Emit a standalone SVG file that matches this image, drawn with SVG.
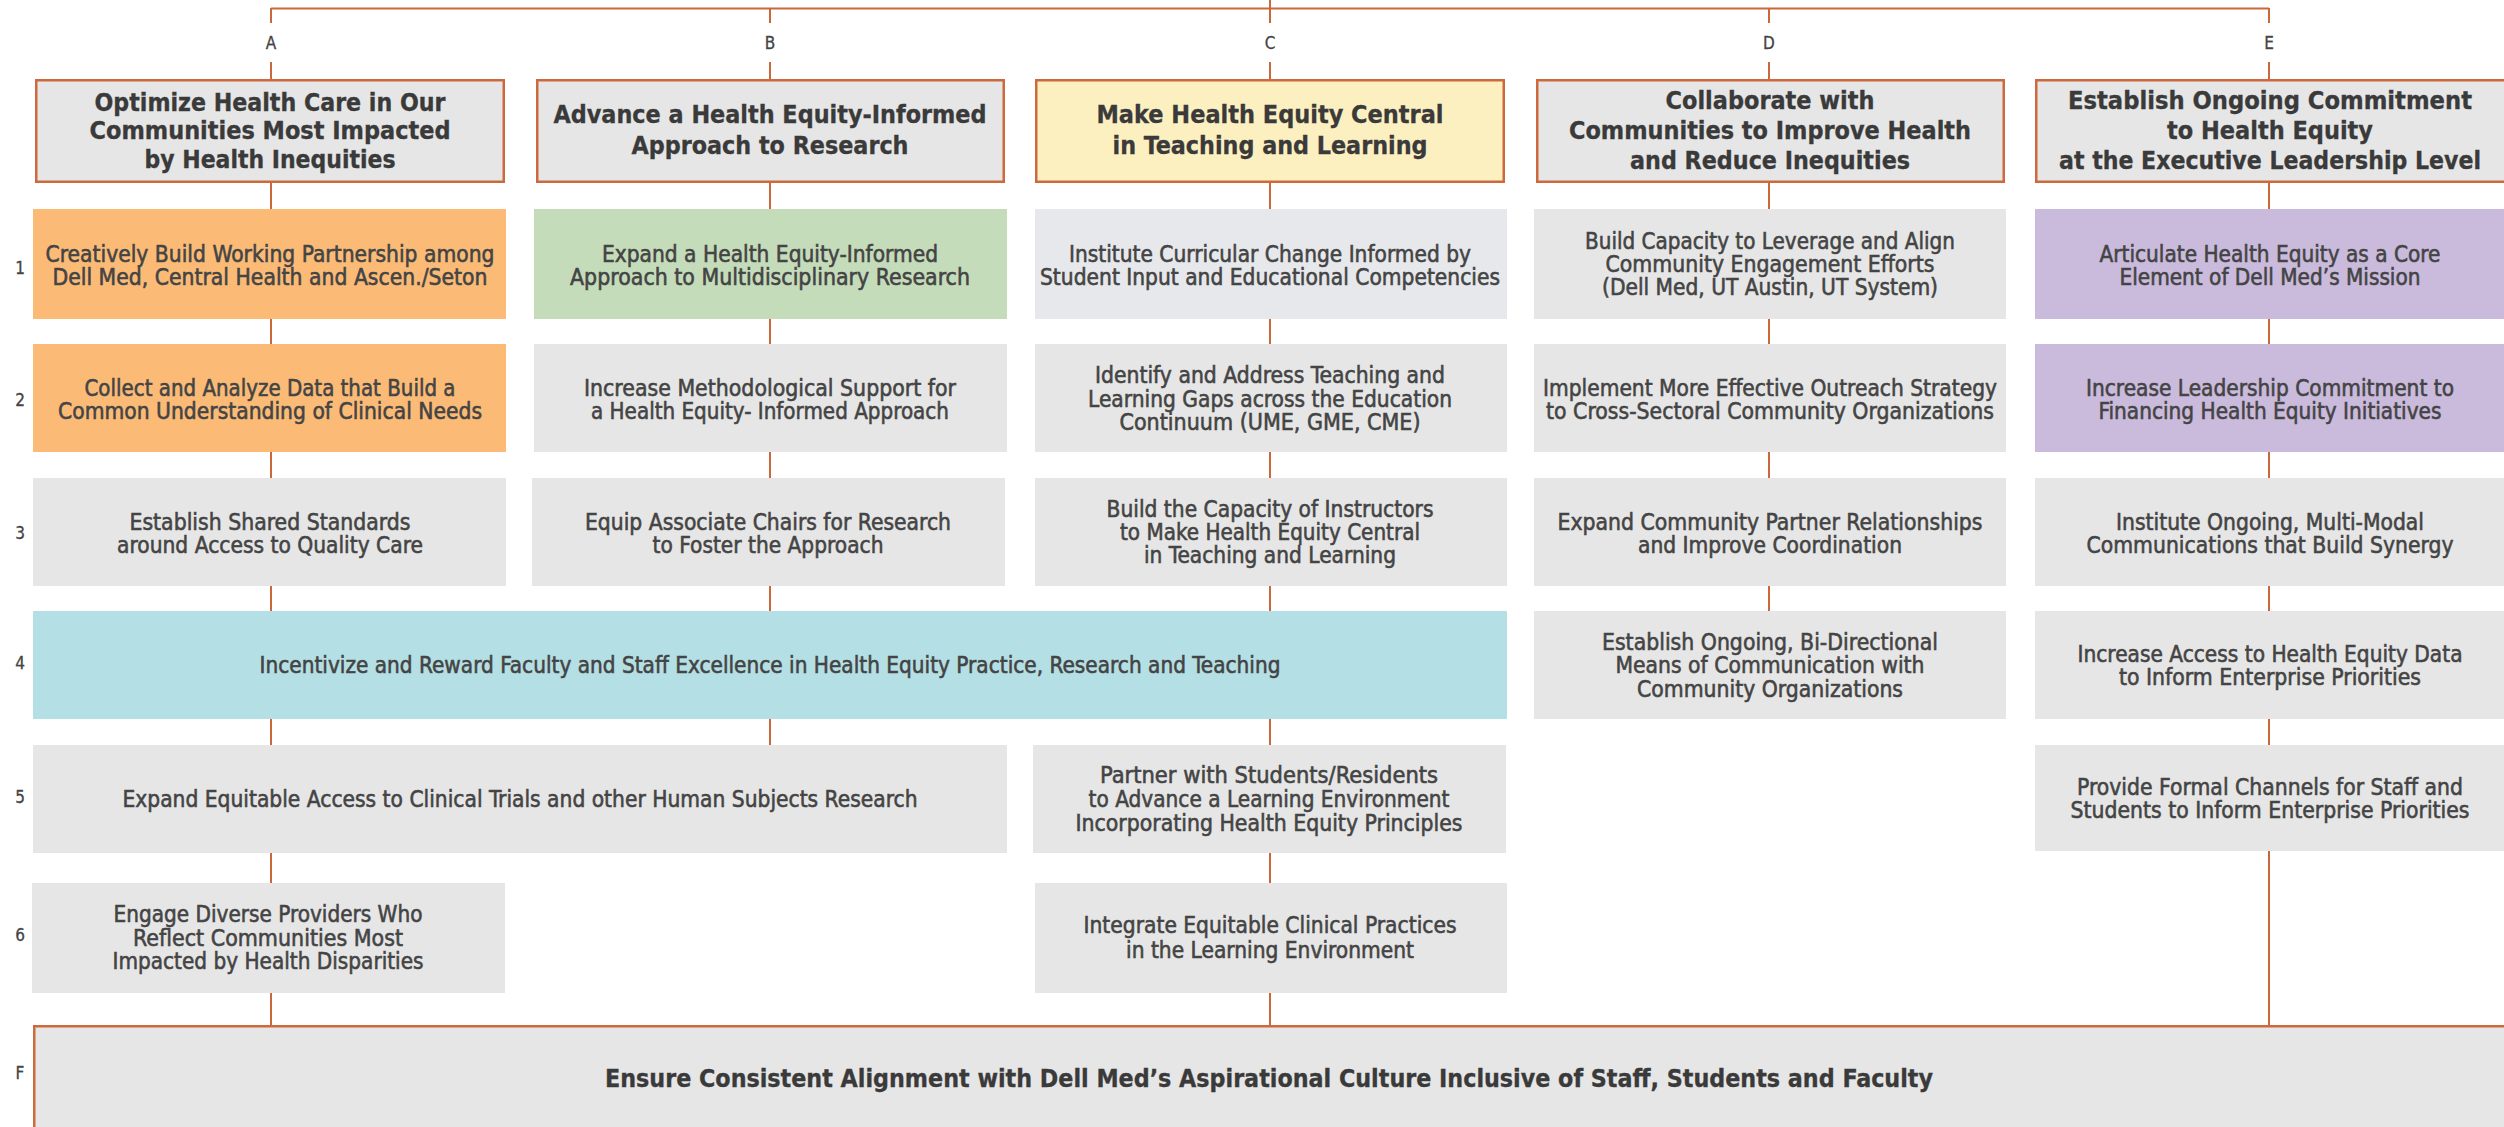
<svg xmlns="http://www.w3.org/2000/svg" width="2504" height="1127" viewBox="0 0 2504 1127">
<style>
.bg{fill:#ffffff}
.hdr{fill:#e6e6e6;stroke:#cd6a3d;stroke-width:2.5}
.hdr.yel{fill:#fdf0c0}
.box{fill:#e6e6e6}
.org{fill:#fbbb77}
.grn{fill:#c5dcba}
.pur{fill:#cabadc}
.teal{fill:#b4dfe4}
.blu{fill:#e7e8eb}
.fbox{fill:#e6e6e6;stroke:#cd6a3d;stroke-width:2.5}
.con line{stroke:#c9693b;stroke-width:2;fill:none}
text{font-family:'Liberation Sans Narrow','DejaVu Sans Condensed','Liberation Sans',Arial,sans-serif;text-anchor:middle}
.t{font-size:23px;fill:#444444;stroke:#444444;stroke-width:0.55}
.h{font-size:24px;font-weight:bold;fill:#3a3a3a;stroke:#3a3a3a;stroke-width:0.3}
.f{font-size:24px;font-weight:bold;fill:#3a3a3a;stroke:#3a3a3a;stroke-width:0.3}
.lbl{font-size:17px;fill:#444444;stroke:#444444;stroke-width:0.3}
</style>
<rect class="bg" x="0" y="0" width="2504" height="1127"/>

<g id="connectors" class="con">
<line x1="271" y1="8.5" x2="2269" y2="8.5"/>
<line x1="271" y1="8" x2="271" y2="23"/><line x1="271" y1="62" x2="271" y2="80"/>
<line x1="770" y1="8" x2="770" y2="23"/><line x1="770" y1="62" x2="770" y2="80"/>
<line x1="1270" y1="0" x2="1270" y2="23"/><line x1="1270" y1="62" x2="1270" y2="80"/>
<line x1="1769" y1="8" x2="1769" y2="23"/><line x1="1769" y1="62" x2="1769" y2="80"/>
<line x1="2269" y1="8" x2="2269" y2="23"/><line x1="2269" y1="62" x2="2269" y2="80"/>
<line x1="271" y1="183" x2="271" y2="209"/>
<line x1="770" y1="183" x2="770" y2="209"/>
<line x1="1270" y1="183" x2="1270" y2="209"/>
<line x1="1769" y1="183" x2="1769" y2="209"/>
<line x1="2269" y1="183" x2="2269" y2="209"/>
<line x1="271" y1="319" x2="271" y2="344"/><line x1="271" y1="452" x2="271" y2="478"/><line x1="271" y1="586" x2="271" y2="611"/><line x1="271" y1="719" x2="271" y2="745"/><line x1="271" y1="853" x2="271" y2="883"/><line x1="271" y1="993" x2="271" y2="1025"/>
<line x1="770" y1="319" x2="770" y2="344"/><line x1="770" y1="452" x2="770" y2="478"/><line x1="770" y1="586" x2="770" y2="611"/><line x1="770" y1="719" x2="770" y2="745"/>
<line x1="1270" y1="319" x2="1270" y2="344"/><line x1="1270" y1="452" x2="1270" y2="478"/><line x1="1270" y1="586" x2="1270" y2="611"/><line x1="1270" y1="719" x2="1270" y2="745"/><line x1="1270" y1="853" x2="1270" y2="883"/><line x1="1270" y1="993" x2="1270" y2="1025"/>
<line x1="1769" y1="319" x2="1769" y2="344"/><line x1="1769" y1="452" x2="1769" y2="478"/><line x1="1769" y1="586" x2="1769" y2="611"/>
<line x1="2269" y1="319" x2="2269" y2="344"/><line x1="2269" y1="452" x2="2269" y2="478"/><line x1="2269" y1="586" x2="2269" y2="611"/><line x1="2269" y1="719" x2="2269" y2="745"/><line x1="2269" y1="851" x2="2269" y2="1025"/>
</g>

<g id="labels">
<text class="lbl" x="271" y="49">A</text>
<text class="lbl" x="770" y="49">B</text>
<text class="lbl" x="1270" y="49">C</text>
<text class="lbl" x="1769" y="49">D</text>
<text class="lbl" x="2269" y="49">E</text>
<text class="lbl" x="20" y="274">1</text>
<text class="lbl" x="20" y="406">2</text>
<text class="lbl" x="20" y="539">3</text>
<text class="lbl" x="20" y="669">4</text>
<text class="lbl" x="20" y="803">5</text>
<text class="lbl" x="20" y="941">6</text>
<text class="lbl" x="20" y="1079">F</text>
</g>

<g id="hdrA">
<rect class="hdr" x="36.25" y="80.25" width="467.5" height="101.5"/>
<text class="h" x="270" y="111" textLength="351" lengthAdjust="spacingAndGlyphs">Optimize Health Care in Our</text>
<text class="h" x="270" y="139" textLength="361" lengthAdjust="spacingAndGlyphs">Communities Most Impacted</text>
<text class="h" x="270" y="168" textLength="251" lengthAdjust="spacingAndGlyphs">by Health Inequities</text>
</g>
<g id="hdrB">
<rect class="hdr" x="537.25" y="80.25" width="466.5" height="101.5"/>
<text class="h" x="770" y="123" textLength="433" lengthAdjust="spacingAndGlyphs">Advance a Health Equity-Informed</text>
<text class="h" x="770" y="154" textLength="277" lengthAdjust="spacingAndGlyphs">Approach to Research</text>
</g>
<g id="hdrC">
<rect class="hdr yel" x="1036.25" y="80.25" width="467.5" height="101.5"/>
<text class="h" x="1270" y="123" textLength="347" lengthAdjust="spacingAndGlyphs">Make Health Equity Central</text>
<text class="h" x="1270" y="154" textLength="315" lengthAdjust="spacingAndGlyphs">in Teaching and Learning</text>
</g>
<g id="hdrD">
<rect class="hdr" x="1537.25" y="80.25" width="466.5" height="101.5"/>
<text class="h" x="1770" y="109" textLength="209" lengthAdjust="spacingAndGlyphs">Collaborate with</text>
<text class="h" x="1770" y="139" textLength="402" lengthAdjust="spacingAndGlyphs">Communities to Improve Health</text>
<text class="h" x="1770" y="169" textLength="280" lengthAdjust="spacingAndGlyphs">and Reduce Inequities</text>
</g>
<g id="hdrE">
<rect class="hdr" x="2036.25" y="80.25" width="480" height="101.5"/>
<text class="h" x="2270" y="109" textLength="404" lengthAdjust="spacingAndGlyphs">Establish Ongoing Commitment</text>
<text class="h" x="2270" y="139" textLength="206" lengthAdjust="spacingAndGlyphs">to Health Equity</text>
<text class="h" x="2270" y="169" textLength="422" lengthAdjust="spacingAndGlyphs">at the Executive Leadership Level</text>
</g>

<g id="A1">
<rect class="org" x="33" y="209" width="473" height="110"/>
<text class="t" x="270" y="262" textLength="449" lengthAdjust="spacingAndGlyphs">Creatively Build Working Partnership among</text>
<text class="t" x="270" y="285" textLength="435" lengthAdjust="spacingAndGlyphs">Dell Med, Central Health and Ascen./Seton</text>
</g>
<g id="B1">
<rect class="grn" x="534" y="209" width="473" height="110"/>
<text class="t" x="770" y="262" textLength="336" lengthAdjust="spacingAndGlyphs">Expand a Health Equity-Informed</text>
<text class="t" x="770" y="285" textLength="400" lengthAdjust="spacingAndGlyphs">Approach to Multidisciplinary Research</text>
</g>
<g id="C1">
<rect class="blu" x="1035" y="209" width="472" height="110"/>
<text class="t" x="1270" y="262" textLength="402" lengthAdjust="spacingAndGlyphs">Institute Curricular Change Informed by</text>
<text class="t" x="1270" y="285" textLength="460" lengthAdjust="spacingAndGlyphs">Student Input and Educational Competencies</text>
</g>
<g id="D1">
<rect class="box" x="1534" y="209" width="472" height="110"/>
<text class="t" x="1770" y="248.5" textLength="370" lengthAdjust="spacingAndGlyphs">Build Capacity to Leverage and Align</text>
<text class="t" x="1770" y="272" textLength="329" lengthAdjust="spacingAndGlyphs">Community Engagement Efforts</text>
<text class="t" x="1770" y="295" textLength="336" lengthAdjust="spacingAndGlyphs">(Dell Med, UT Austin, UT System)</text>
</g>
<g id="E1">
<rect class="pur" x="2035" y="209" width="480" height="110"/>
<text class="t" x="2270" y="262" textLength="341" lengthAdjust="spacingAndGlyphs">Articulate Health Equity as a Core</text>
<text class="t" x="2270" y="285" textLength="301" lengthAdjust="spacingAndGlyphs">Element of Dell Med’s Mission</text>
</g>

<g id="A2">
<rect class="org" x="33" y="344" width="473" height="108"/>
<text class="t" x="270" y="396" textLength="371" lengthAdjust="spacingAndGlyphs">Collect and Analyze Data that Build a</text>
<text class="t" x="270" y="419" textLength="424" lengthAdjust="spacingAndGlyphs">Common Understanding of Clinical Needs</text>
</g>
<g id="B2">
<rect class="box" x="534" y="344" width="473" height="108"/>
<text class="t" x="770" y="396" textLength="372" lengthAdjust="spacingAndGlyphs">Increase Methodological Support for</text>
<text class="t" x="770" y="419" textLength="358" lengthAdjust="spacingAndGlyphs">a Health Equity- Informed Approach</text>
</g>
<g id="C2">
<rect class="box" x="1035" y="344" width="472" height="108"/>
<text class="t" x="1270" y="383" textLength="350" lengthAdjust="spacingAndGlyphs">Identify and Address Teaching and</text>
<text class="t" x="1270" y="407" textLength="364" lengthAdjust="spacingAndGlyphs">Learning Gaps across the Education</text>
<text class="t" x="1270" y="430" textLength="301" lengthAdjust="spacingAndGlyphs">Continuum (UME, GME, CME)</text>
</g>
<g id="D2">
<rect class="box" x="1534" y="344" width="472" height="108"/>
<text class="t" x="1770" y="396" textLength="454" lengthAdjust="spacingAndGlyphs">Implement More Effective Outreach Strategy</text>
<text class="t" x="1770" y="419" textLength="448" lengthAdjust="spacingAndGlyphs">to Cross-Sectoral Community Organizations</text>
</g>
<g id="E2">
<rect class="pur" x="2035" y="344" width="480" height="108"/>
<text class="t" x="2270" y="396" textLength="368" lengthAdjust="spacingAndGlyphs">Increase Leadership Commitment to</text>
<text class="t" x="2270" y="419" textLength="343" lengthAdjust="spacingAndGlyphs">Financing Health Equity Initiatives</text>
</g>

<g id="A3">
<rect class="box" x="33" y="478" width="473" height="108"/>
<text class="t" x="270" y="530" textLength="281" lengthAdjust="spacingAndGlyphs">Establish Shared Standards</text>
<text class="t" x="270" y="553" textLength="306" lengthAdjust="spacingAndGlyphs">around Access to Quality Care</text>
</g>
<g id="B3">
<rect class="box" x="532" y="478" width="473" height="108"/>
<text class="t" x="768" y="530" textLength="366" lengthAdjust="spacingAndGlyphs">Equip Associate Chairs for Research</text>
<text class="t" x="768" y="553" textLength="231" lengthAdjust="spacingAndGlyphs">to Foster the Approach</text>
</g>
<g id="C3">
<rect class="box" x="1035" y="478" width="472" height="108"/>
<text class="t" x="1270" y="517" textLength="327" lengthAdjust="spacingAndGlyphs">Build the Capacity of Instructors</text>
<text class="t" x="1270" y="540" textLength="300" lengthAdjust="spacingAndGlyphs">to Make Health Equity Central</text>
<text class="t" x="1270" y="563" textLength="252" lengthAdjust="spacingAndGlyphs">in Teaching and Learning</text>
</g>
<g id="D3">
<rect class="box" x="1534" y="478" width="472" height="108"/>
<text class="t" x="1770" y="530" textLength="425" lengthAdjust="spacingAndGlyphs">Expand Community Partner Relationships</text>
<text class="t" x="1770" y="553" textLength="264" lengthAdjust="spacingAndGlyphs">and Improve Coordination</text>
</g>
<g id="E3">
<rect class="box" x="2035" y="478" width="480" height="108"/>
<text class="t" x="2270" y="530" textLength="308" lengthAdjust="spacingAndGlyphs">Institute Ongoing, Multi-Modal</text>
<text class="t" x="2270" y="553" textLength="367" lengthAdjust="spacingAndGlyphs">Communications that Build Synergy</text>
</g>

<g id="ABC4">
<rect class="teal" x="33" y="611" width="1474" height="108"/>
<text class="t" x="770" y="673" textLength="1021" lengthAdjust="spacingAndGlyphs">Incentivize and Reward Faculty and Staff Excellence in Health Equity Practice, Research and Teaching</text>
</g>
<g id="D4">
<rect class="box" x="1534" y="611" width="472" height="108"/>
<text class="t" x="1770" y="650" textLength="336" lengthAdjust="spacingAndGlyphs">Establish Ongoing, Bi-Directional</text>
<text class="t" x="1770" y="673" textLength="309" lengthAdjust="spacingAndGlyphs">Means of Communication with</text>
<text class="t" x="1770" y="697" textLength="266" lengthAdjust="spacingAndGlyphs">Community Organizations</text>
</g>
<g id="E4">
<rect class="box" x="2035" y="611" width="480" height="108"/>
<text class="t" x="2270" y="662" textLength="385" lengthAdjust="spacingAndGlyphs">Increase Access to Health Equity Data</text>
<text class="t" x="2270" y="685" textLength="302" lengthAdjust="spacingAndGlyphs">to Inform Enterprise Priorities</text>
</g>

<g id="AB5">
<rect class="box" x="33" y="745" width="974" height="108"/>
<text class="t" x="520" y="807" textLength="795" lengthAdjust="spacingAndGlyphs">Expand Equitable Access to Clinical Trials and other Human Subjects Research</text>
</g>
<g id="C5">
<rect class="box" x="1033" y="745" width="473" height="108"/>
<text class="t" x="1269" y="783" textLength="338" lengthAdjust="spacingAndGlyphs">Partner with Students/Residents</text>
<text class="t" x="1269" y="807" textLength="361" lengthAdjust="spacingAndGlyphs">to Advance a Learning Environment</text>
<text class="t" x="1269" y="831" textLength="387" lengthAdjust="spacingAndGlyphs">Incorporating Health Equity Principles</text>
</g>
<g id="E5">
<rect class="box" x="2035" y="745" width="480" height="106"/>
<text class="t" x="2270" y="795" textLength="386" lengthAdjust="spacingAndGlyphs">Provide Formal Channels for Staff and</text>
<text class="t" x="2270" y="818" textLength="399" lengthAdjust="spacingAndGlyphs">Students to Inform Enterprise Priorities</text>
</g>

<g id="A6">
<rect class="box" x="32" y="883" width="473" height="110"/>
<text class="t" x="268" y="922" textLength="309" lengthAdjust="spacingAndGlyphs">Engage Diverse Providers Who</text>
<text class="t" x="268" y="946" textLength="270" lengthAdjust="spacingAndGlyphs">Reflect Communities Most</text>
<text class="t" x="268" y="969" textLength="311" lengthAdjust="spacingAndGlyphs">Impacted by Health Disparities</text>
</g>
<g id="C6">
<rect class="box" x="1035" y="883" width="472" height="110"/>
<text class="t" x="1270" y="933" textLength="373" lengthAdjust="spacingAndGlyphs">Integrate Equitable Clinical Practices</text>
<text class="t" x="1270" y="958" textLength="288" lengthAdjust="spacingAndGlyphs">in the Learning Environment</text>
</g>

<g id="F">
<rect class="fbox" x="34.25" y="1026.25" width="2490" height="130"/>
<text class="f" x="1269" y="1087" textLength="1328" lengthAdjust="spacingAndGlyphs">Ensure Consistent Alignment with Dell Med’s Aspirational Culture Inclusive of Staff, Students and Faculty</text>
</g>
</svg>
